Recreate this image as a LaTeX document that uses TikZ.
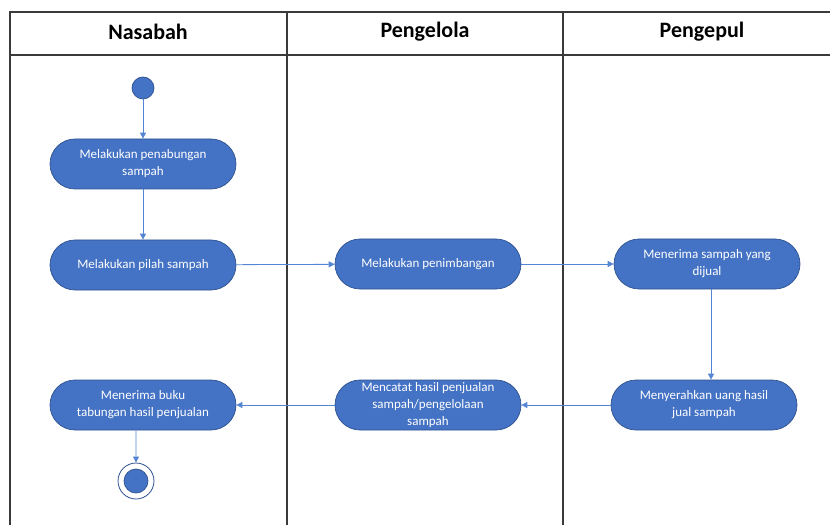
\documentclass[tikz,border=0pt]{standalone}
\usepackage{fontspec}
\setmainfont{Carlito}
\usetikzlibrary{arrows.meta}
\definecolor{actfill}{HTML}{4472C4}
\definecolor{actline}{HTML}{2F528F}
\definecolor{flow}{HTML}{5585D2}
\definecolor{grid}{HTML}{3A3A3A}
\begin{document}
\begin{tikzpicture}[x=1bp,y=-1bp,
  act/.style={draw=actline, fill=actfill, rounded corners=25bp, minimum width=186bp,
    minimum height=50bp, text=white, align=center, inner sep=2bp, line width=0.7bp,
    font=\fontsize{13bp}{17bp}\selectfont},
  lane/.style={draw=grid, line width=1.3bp},
  head/.style={font=\fontsize{22bp}{26bp}\selectfont\bfseries, text=black},
  flowline/.style={draw=flow, line width=0.8bp, -{Triangle[length=6bp,width=6bp]}},
  startnode/.style={circle, fill=actfill, draw=actline, line width=0.7bp, minimum size=22bp, inner sep=0pt},
  endouter/.style={circle, fill=white, draw=actline, line width=0.8bp, minimum size=36bp, inner sep=0pt},
  endinner/.style={circle, fill=actfill, draw=actline, line width=0.7bp, minimum size=24bp, inner sep=0pt}]
\useasboundingbox (0,0) rectangle (830,525);
% swimlanes
\draw[lane] (845,12) -- (10,12) -- (10,540);
\draw[lane] (10,55) -- (845,55);
\draw[lane] (287,12) -- (287,540);
\draw[lane] (563,12) -- (563,540);
\node[head] (h1) at (148,32) {Nasabah};
\node[head] (h2) at (425,32) {Pengelola};
\node[head] (h3) at (702,32) {Pengepul};
% nodes
\node[startnode] (start) at (143,88) {};
\node[act] (a1) at (143,164) {Melakukan penabungan\\sampah};
\node[act] (a2) at (143,265) {Melakukan pilah sampah};
\node[act] (b1) at (428,264) {Melakukan penimbangan};
\node[act] (c1) at (707,264) {Menerima sampah yang\\dijual};
\node[act] (c2) at (704,405) {Menyerahkan uang hasil\\jual sampah};
\node[act] (b2) at (428,405) {Mencatat hasil penjualan\\sampah/pengelolaan\\sampah};
\node[act] (a3) at (143,405) {Menerima buku\\tabungan hasil penjualan};
\node[endouter] (endo) at (136,481) {};
\node[endinner] (endi) at (endo) {};
% flows
\draw[flowline] (start) -- (a1);
\draw[flowline] (a1) -- (a2);
\draw[flowline] (a2) -- (b1);
\draw[flowline] (b1) -- (c1);
\draw[flowline] ([xshift=4bp]c1.south) -- ([xshift=4bp]c1.south |- c2.north);
\draw[flowline] (c2) -- (b2);
\draw[flowline] (b2) -- (a3);
\draw[flowline] ([xshift=-7bp]a3.south) -- (endo);
\end{tikzpicture}
\end{document}
